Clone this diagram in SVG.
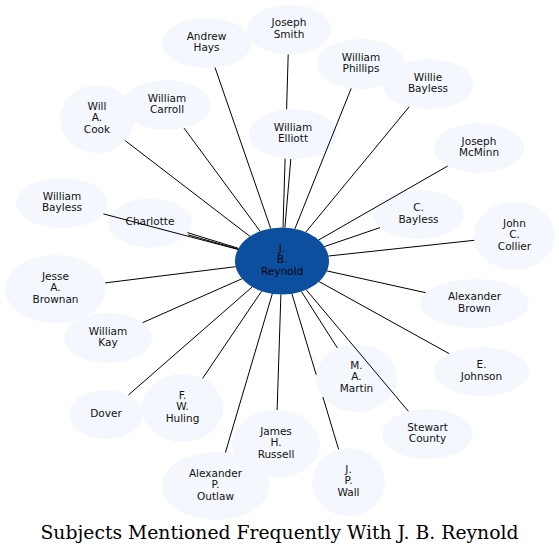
<svg xmlns="http://www.w3.org/2000/svg" width="559" height="555" viewBox="0 0 559 555">
<style>
  .n ellipse { fill: #f4f8fe; stroke: none; }
  .n text { font-family: "DejaVu Sans", Verdana, sans-serif; font-size: 10.5px; fill: #111111; text-anchor: middle; }
  #hub ellipse { fill: #0b4f9e; }
  #hub text { fill: #000000; }
  .e line, .e polyline { stroke: #000000; stroke-width: 1; fill: none; }
  .title { font-family: "DejaVu Serif", "Liberation Serif", serif; font-size: 18.5px; fill: #000000; text-anchor: middle; }
</style>
<rect width="559" height="555" fill="#ffffff"/>

<g id="nodes">
  <g id="n-andrew-hays" class="n"><ellipse cx="206.5" cy="43" rx="45" ry="25"/><text x="206.5" y="39.5">Andrew</text><text x="206.5" y="51.2">Hays</text></g>
  <g id="n-joseph-smith" class="n"><ellipse cx="289" cy="29.5" rx="42" ry="25"/><text x="289" y="26">Joseph</text><text x="289" y="37.7">Smith</text></g>
  <g id="n-william-phillips" class="n"><ellipse cx="361" cy="64" rx="44" ry="25"/><text x="361" y="60.5">William</text><text x="361" y="72.2">Phillips</text></g>
  <g id="n-willie-bayless" class="n"><ellipse cx="428" cy="84" rx="46" ry="25"/><text x="428" y="80.5">Willie</text><text x="428" y="92.2">Bayless</text></g>
  <g id="n-joseph-mcminn" class="n"><ellipse cx="479" cy="148" rx="45" ry="25"/><text x="479" y="144.5">Joseph</text><text x="479" y="156.2">McMinn</text></g>
  <g id="n-william-elliott" class="n"><ellipse cx="293" cy="134" rx="44" ry="25"/><text x="293" y="130.5">William</text><text x="293" y="142.2">Elliott</text></g>
  <g id="n-william-carroll" class="n"><ellipse cx="167" cy="105" rx="44" ry="25"/><text x="167" y="101.5">William</text><text x="167" y="113.2">Carroll</text></g>
  <g id="n-will-a-cook" class="n"><ellipse cx="97" cy="119" rx="37" ry="34"/><text x="97" y="109.7">Will</text><text x="97" y="121.4">A.</text><text x="97" y="133.1">Cook</text></g>
  <g id="n-william-bayless" class="n"><ellipse cx="62" cy="203" rx="46" ry="25"/><text x="62" y="199.5">William</text><text x="62" y="211.2">Bayless</text></g>
  <g id="n-charlotte" class="n"><ellipse cx="150" cy="223" rx="42" ry="24.5"/><text x="150" y="225.4">Charlotte</text></g>
  <g id="n-jesse-a-brownan" class="n"><ellipse cx="55.5" cy="289" rx="50.5" ry="34"/><text x="55.5" y="279.7">Jesse</text><text x="55.5" y="291.4">A.</text><text x="55.5" y="303.1">Brownan</text></g>
  <g id="n-william-kay" class="n"><ellipse cx="108" cy="338" rx="44" ry="25"/><text x="108" y="334.5">William</text><text x="108" y="346.2">Kay</text></g>
  <g id="n-dover" class="n"><ellipse cx="106" cy="414.5" rx="37" ry="24.5"/><text x="106" y="416.9">Dover</text></g>
  <g id="n-f-w-huling" class="n"><ellipse cx="182.5" cy="408" rx="41" ry="34"/><text x="182.5" y="398.7">F.</text><text x="182.5" y="410.4">W.</text><text x="182.5" y="422.1">Huling</text></g>
  <g id="n-alexander-p-outlaw" class="n"><ellipse cx="215.5" cy="486" rx="53.5" ry="34"/><text x="215.5" y="476.7">Alexander</text><text x="215.5" y="488.4">P.</text><text x="215.5" y="500.1">Outlaw</text></g>
  <g id="n-james-h-russell" class="n"><ellipse cx="276" cy="444" rx="44" ry="34"/><text x="276" y="434.7">James</text><text x="276" y="446.4">H.</text><text x="276" y="458.1">Russell</text></g>
  <g id="n-j-p-wall" class="n"><ellipse cx="348.5" cy="482" rx="36.5" ry="34"/><text x="348.5" y="472.7">J.</text><text x="348.5" y="484.4">P.</text><text x="348.5" y="496.1">Wall</text></g>
  <g id="n-m-a-martin" class="n"><ellipse cx="356.5" cy="378" rx="40.5" ry="34"/><text x="356.5" y="368.7">M.</text><text x="356.5" y="380.4">A.</text><text x="356.5" y="392.1">Martin</text></g>
  <g id="n-stewart-county" class="n"><ellipse cx="427.5" cy="434" rx="45.5" ry="25"/><text x="427.5" y="430.5">Stewart</text><text x="427.5" y="442.2">County</text></g>
  <g id="n-e-johnson" class="n"><ellipse cx="481.5" cy="371.5" rx="47.5" ry="24.5"/><text x="481.5" y="368">E.</text><text x="481.5" y="379.7">Johnson</text></g>
  <g id="n-alexander-brown" class="n"><ellipse cx="474.5" cy="303.5" rx="54.5" ry="24.5"/><text x="474.5" y="300">Alexander</text><text x="474.5" y="311.7">Brown</text></g>
  <g id="n-john-c-collier" class="n"><ellipse cx="514.5" cy="236" rx="40.5" ry="34"/><text x="514.5" y="226.7">John</text><text x="514.5" y="238.4">C.</text><text x="514.5" y="250.1">Collier</text></g>
  <g id="n-c-bayless" class="n"><ellipse cx="418.5" cy="214.5" rx="45.5" ry="24.5"/><text x="418.5" y="211">C.</text><text x="418.5" y="222.7">Bayless</text></g>
  <g id="hub" class="n"><ellipse cx="282" cy="261" rx="47" ry="33.5"/><text x="282" y="251.7">J.</text><text x="282" y="263.4">B.</text><text x="282" y="275.1">Reynold</text></g>
</g>

<g id="connectors" class="e">
  <line x1="270.7" y1="228.5" x2="215.0" y2="67.5"/>
  <line x1="288.2" y1="54.5" x2="286.6" y2="109.3"/>
  <line x1="285.1" y1="158.6" x2="283.0" y2="227.5"/>
  <line x1="294.9" y1="228.8" x2="351.2" y2="88.4"/>
  <line x1="305.8" y1="232.1" x2="409.2" y2="106.8"/>
  <line x1="318.6" y1="240.0" x2="447.7" y2="166.0"/>
  <line x1="284.9" y1="227.6" x2="290.8" y2="159.0"/>
  <line x1="260.1" y1="231.3" x2="184.0" y2="128.1"/>
  <line x1="250.0" y1="236.4" x2="125.4" y2="140.8"/>
  <line x1="237.9" y1="249.4" x2="103.4" y2="213.9"/>
  <line x1="238.0" y1="248.2" x2="187.4" y2="232.6"/>
  <line x1="238.6" y1="249.2" x2="187.9" y2="234.8"/>
  <line x1="235.7" y1="266.7" x2="105.2" y2="282.9"/>
  <line x1="242.1" y1="278.7" x2="142.7" y2="322.6"/>
  <line x1="252.3" y1="286.9" x2="128.4" y2="395.0"/>
  <line x1="261.6" y1="291.2" x2="202.6" y2="378.4"/>
  <line x1="272.3" y1="293.8" x2="225.4" y2="452.6"/>
  <line x1="280.9" y1="294.5" x2="277.1" y2="410.0"/>
  <line x1="291.9" y1="293.8" x2="316.2" y2="374.7"/>
  <line x1="322.9" y1="397.0" x2="338.6" y2="449.3"/>
  <line x1="301.4" y1="291.5" x2="337.4" y2="348.0"/>
  <line x1="306.2" y1="289.7" x2="408.4" y2="411.3"/>
  <line x1="319.1" y1="281.6" x2="449.1" y2="353.6"/>
  <line x1="326.9" y1="270.9" x2="425.6" y2="292.7"/>
  <line x1="328.5" y1="256.0" x2="474.3" y2="240.3"/>
  <line x1="324.4" y1="246.6" x2="380.0" y2="227.6"/>
</g>

<text class="title" x="279.5" y="538.5" textLength="478" lengthAdjust="spacingAndGlyphs">Subjects Mentioned Frequently With J. B. Reynold</text>
</svg>
